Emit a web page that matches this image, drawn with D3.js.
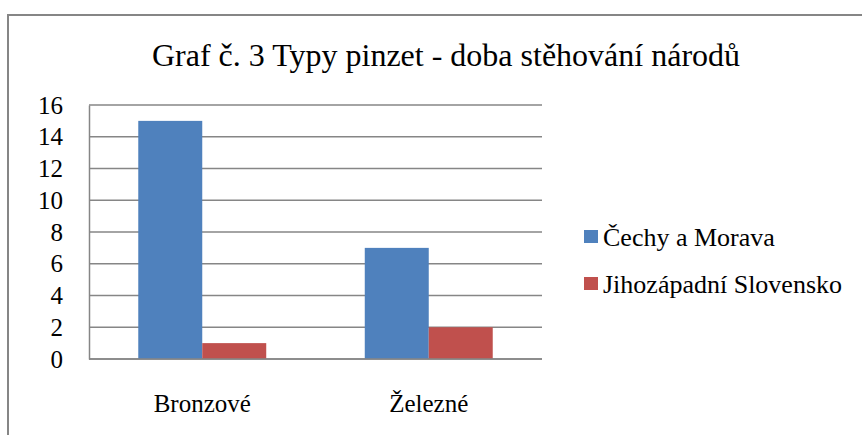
<!DOCTYPE html>
<html>
  <head>
    <meta charset="UTF-8" />
    <script src="https://d3js.org/d3.v7.min.js"></script>
  </head>
  <body style="margin:0">
    <script>
      var categories = ["Bronzové", "Železné"];
      var seriesNames = ["Čechy a Morava", "Jihozápadní Slovensko"];
      var cechyMorava = [15, 7];
      var jzSlovensko = [1, 2];
      var yTicks = [0, 2, 4, 6, 8, 10, 12, 14, 16];
      var colors = ["#4F81BD", "#C0504D"];

      var FONT = "Liberation Serif";
      var width = 862,
        height = 435;

      var svg = d3
        .select("body")
        .append("svg")
        .attr("width", width)
        .attr("height", height)
        .style("font-family", FONT);

      // chart frame
      svg
        .append("rect")
        .attr("x", 8)
        .attr("y", 15)
        .attr("width", 870)
        .attr("height", 440)
        .attr("fill", "none")
        .attr("stroke", "#868686")
        .attr("stroke-width", 2);

      svg
        .append("text")
        .attr("x", 446)
        .attr("y", 66)
        .attr("text-anchor", "middle")
        .style("font-family", FONT)
        .style("font-size", "32px")
        .text("Graf č. 3 Typy pinzet - doba stěhování národů");

      var plotLeft = 89,
        plotRight = 542,
        plotTop = 105,
        plotBottom = 359;

      var y = d3.scaleLinear().domain([0, 16]).range([plotBottom, plotTop]);
      var x = d3
        .scaleBand()
        .domain(categories)
        .range([plotLeft, plotRight])
        .paddingInner(0)
        .paddingOuter(0);
      var xSub = d3
        .scaleBand()
        .domain(seriesNames)
        .range([0, x.bandwidth()])
        .paddingOuter(0.77);

      // gridlines
      svg
        .append("g")
        .selectAll("line")
        .data(yTicks)
        .enter()
        .append("line")
        .attr("x1", plotLeft)
        .attr("x2", plotRight)
        .attr("y1", function (d) { return y(d); })
        .attr("y2", function (d) { return y(d); })
        .attr("stroke", "#868686")
        .attr("stroke-width", 1.5);

      // y axis
      var yAxis = svg
        .append("g")
        .attr("transform", "translate(" + plotLeft + ",0)")
        .call(d3.axisLeft(y).tickValues(yTicks).tickSize(0).tickPadding(26));
      yAxis.attr("font-family", FONT).attr("font-size", 25);
      yAxis.select(".domain").attr("stroke", "#868686").attr("stroke-width", 1.5);
      yAxis
        .selectAll("text")
        .style("font-family", FONT)
        .style("font-size", "25px")
        .attr("fill", "#000");

      var data = [];
      categories.forEach(function (c, i) {
        data.push({ cat: c, series: seriesNames[0], value: cechyMorava[i], color: colors[0] });
        data.push({ cat: c, series: seriesNames[1], value: jzSlovensko[i], color: colors[1] });
      });

      svg
        .append("g")
        .selectAll("rect")
        .data(data)
        .enter()
        .append("rect")
        .attr("x", function (d) { return x(d.cat) + xSub(d.series); })
        .attr("y", function (d) { return y(d.value); })
        .attr("width", xSub.bandwidth())
        .attr("height", function (d) { return y(0) - y(d.value); })
        .attr("fill", function (d) { return d.color; });

      // x axis line redrawn over bars
      svg
        .append("line")
        .attr("x1", plotLeft)
        .attr("x2", plotRight)
        .attr("y1", y(0))
        .attr("y2", y(0))
        .attr("stroke", "#868686")
        .attr("stroke-width", 1.5);

      // category labels
      svg
        .append("g")
        .selectAll("text")
        .data(categories)
        .enter()
        .append("text")
        .attr("x", function (d) { return x(d) + x.bandwidth() / 2; })
        .attr("y", 412)
        .attr("text-anchor", "middle")
        .style("font-family", FONT)
        .style("font-size", "25px")
        .text(function (d) { return d; });

      // legend
      var legend = svg
        .append("g")
        .selectAll("g")
        .data(seriesNames)
        .enter()
        .append("g")
        .attr("transform", function (d, i) { return "translate(584," + (230 + i * 47) + ")"; });
      legend
        .append("rect")
        .attr("width", 14)
        .attr("height", 13)
        .attr("fill", function (d, i) { return colors[i]; });
      legend
        .append("text")
        .attr("x", 19)
        .attr("y", 16)
        .style("font-family", FONT)
        .style("font-size", "26px")
        .text(function (d) { return d; });
    </script>
  </body>
</html>
